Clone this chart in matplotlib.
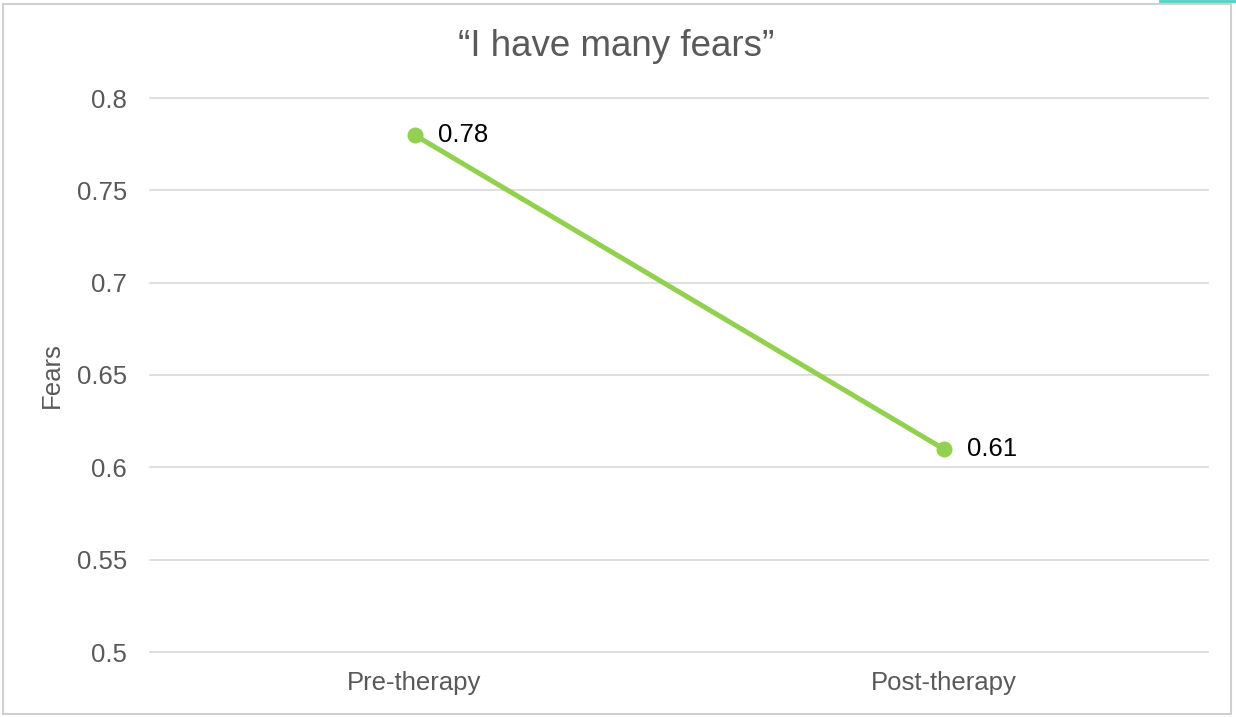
import matplotlib.pyplot as plt
from matplotlib.lines import Line2D
from matplotlib.patches import Rectangle

plt.rcParams['font.family'] = ['Liberation Sans', 'DejaVu Sans']

categories = ["Pre-therapy", "Post-therapy"]
values = [0.78, 0.61]
y_ticks = [0.5, 0.55, 0.6, 0.65, 0.7, 0.75, 0.8]
y_tick_labels = ["0.5", "0.55", "0.6", "0.65", "0.7", "0.75", "0.8"]

green = "#92D050"
grey = "#595959"

fig = plt.figure(figsize=(12.36, 7.17), dpi=100)
ax = fig.add_axes([150 / 1236, 1 - 652 / 717, (1208 - 150) / 1236, (652 - 98) / 717])

xs = list(range(len(categories)))
ax.plot(xs, values, color=green, linewidth=3.6, marker="o", markersize=10.5,
        solid_capstyle="round", zorder=3)
for x, v in zip(xs, values):
    ax.annotate(f"{v:.2f}", (x, v), xytext=(17, 0), textcoords="offset points",
                ha="left", va="center", fontsize=18.5, color="black")

ax.set_ylim(0.5, 0.8)
ax.set_xlim(-0.5, 1.5)
ax.set_yticks(y_ticks)
ax.set_yticklabels(y_tick_labels)
ax.set_xticks(xs)
ax.set_xticklabels(categories)
ax.tick_params(axis="both", length=0, labelsize=18.5, labelcolor=grey)
ax.tick_params(axis="y", pad=16.5)
ax.tick_params(axis="x", pad=14)
ax.grid(axis="y", color="#D9D9D9", linewidth=1.2, clip_on=False)
for gl in ax.get_ygridlines():
    gl.set_clip_on(False)
ax.set_axisbelow(True)
for s in ax.spines.values():
    s.set_visible(False)

ax.set_ylabel("Fears", fontsize=18.5, color=grey, labelpad=9)
fig.text(616 / 1236, 1 - 47 / 717, "\u201cI have many fears\u201d", ha="center", va="center",
         fontsize=26.5, color=grey)

fig.patches.append(Rectangle((3 / 1236, 3 / 717), 1228 / 1236, 710 / 717,
                             transform=fig.transFigure, fill=False,
                             edgecolor="#D0D0D0", linewidth=1.5))
fig.lines.append(Line2D([1160 / 1236, 1], [1 - 1 / 717, 1 - 1 / 717],
                        transform=fig.transFigure, color="#4FD1C5", linewidth=2))

fig.savefig("out.png", dpi=100)
